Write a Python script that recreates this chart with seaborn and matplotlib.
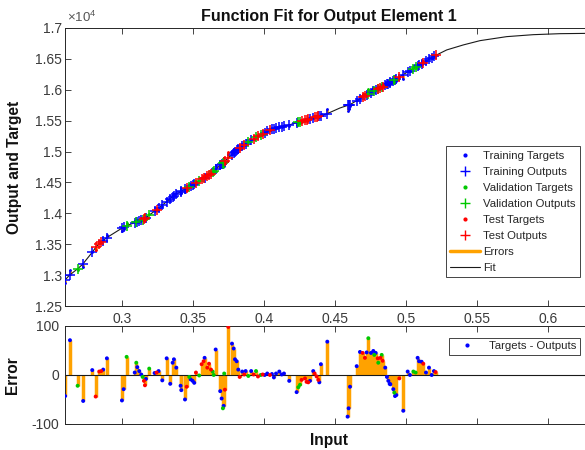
import numpy as np
import pandas as pd
import matplotlib
matplotlib.use("Agg")
import matplotlib.pyplot as plt
import seaborn as sns
from matplotlib.lines import Line2D

# ------------------ DATA ------------------
# fitted curve (input, output in raw units)
fit_x = [0.2599, 0.2629, 0.2692, 0.2723, 0.2791, 0.2822, 0.2892, 0.3021, 0.3150,
         0.3268, 0.3361, 0.3502, 0.3620, 0.3713, 0.3808, 0.3890, 0.3972, 0.4065,
         0.4183, 0.4300, 0.4442, 0.4535, 0.4606, 0.4723, 0.4840, 0.4958, 0.5075,
         0.5192, 0.5287, 0.5404, 0.5521, 0.5709, 0.5897, 0.6085, 0.6320]
fit_y = [12920, 12995, 13110, 13175, 13370, 13470, 13605, 13790, 13900,
         14100, 14280, 14470, 14630, 14820, 15020, 15150, 15270, 15370,
         15435, 15515, 15610, 15705, 15760, 15920, 16050, 16215, 16375,
         16537, 16645, 16726, 16795, 16860, 16892, 16908, 16914]

# training samples
train_x = [0.2600, 0.2634, 0.2727, 0.2791, 0.2868, 0.2894, 0.3000, 0.3012, 0.3090, 0.3108,
           0.3122, 0.3136, 0.3169, 0.3230, 0.3258, 0.3284, 0.3315, 0.3340, 0.3357, 0.3366,
           0.3383, 0.3413, 0.3418, 0.3444, 0.3484, 0.3498, 0.3509, 0.3582, 0.3660, 0.3692,
           0.3702, 0.3716, 0.3775, 0.3787, 0.3796, 0.3808, 0.3819, 0.3847, 0.3871, 0.3910,
           0.4005, 0.4023, 0.4056, 0.4070, 0.4085, 0.4108, 0.4125, 0.4141, 0.4178, 0.4230,
           0.4324, 0.4347, 0.4390, 0.4401, 0.4446, 0.4589, 0.4596, 0.4606, 0.4653, 0.4676,
           0.4723, 0.4754, 0.4770, 0.4787, 0.4854, 0.4866, 0.4876, 0.4885, 0.4890, 0.4911,
           0.4923, 0.4932, 0.4981, 0.5012, 0.5028, 0.5082, 0.5092, 0.5110, 0.5141, 0.5162,
           0.5181, 0.5197]
train_out = [12922, 13004, 13186, 13370, 13559, 13608, 13760, 13777, 13849, 13864,
             13876, 13888, 13932, 14036, 14083, 14131, 14191, 14239, 14272, 14287,
             14310, 14350, 14357, 14392, 14446, 14465, 14479, 14578, 14712, 14777,
             14798, 14826, 14951, 14976, 14995, 15020, 15037, 15082, 15120, 15179,
             15305, 15325, 15360, 15373, 15381, 15394, 15403, 15412, 15432, 15467,
             15531, 15546, 15575, 15583, 15614, 15747, 15752, 15760, 15824, 15856,
             15920, 15954, 15972, 15991, 16070, 16086, 16100, 16113, 16120, 16149,
             16166, 16179, 16246, 16289, 16311, 16385, 16399, 16423, 16466, 16495,
             16522, 16543]
train_err = [-43, 71, -53, 10, 11, 34, -52, -29, 5, 16,
             8, 1, -8, 4, 8, -11, 34, -18, 25, 32,
             15, -22, -31, -50, -9, -12, -16, 35, 52, -33,
             -48, -63, 64, 54, 32, 28, 11, 7, 8, 8,
             0, 3, 2, -5, 3, 7, 1, 3, -12, -35,
             -12, 8, -15, 22, 68, -85, -68, -24, 18, 47,
             46, 45, 49, 45, 15, -4, -12, -18, -19, -29,
             -43, -41, -73, 7, 0, 35, 28, 27, 5, 15,
             0, 8]

# validation samples
val_x = [0.2688, 0.3033, 0.3101, 0.3146, 0.3192, 0.3474, 0.3544, 0.3639, 0.3646, 0.3711,
         0.3720, 0.3890, 0.3944, 0.3977, 0.4242, 0.4254, 0.4735, 0.4777, 0.4805, 0.4829,
         0.4918, 0.5052, 0.5068]
val_out = [13103, 13800, 13858, 13897, 13971, 14432, 14527, 14669, 14683, 14816,
           14835, 15150, 15229, 15275, 15475, 15484, 15933, 15980, 16011, 16038,
           16159, 16344, 16365]
val_err = [-22, 37, 25, -4, 13, -4, -1, 7, 0, -68,
           3, -2, 8, 0, -25, -20, 75, 41, 25, 41,
           -36, 7, 5]

# test samples
test_x = [0.2815, 0.2840, 0.2854, 0.3155, 0.3162, 0.3244, 0.3456, 0.3521, 0.3561, 0.3575,
          0.3601, 0.3613, 0.3627, 0.3725, 0.3749, 0.3829, 0.3861, 0.3927, 0.3958, 0.3991,
          0.4042, 0.4265, 0.4289, 0.4300, 0.4312, 0.4357, 0.4371, 0.4383, 0.4695, 0.4711,
          0.4801, 0.4820, 0.4836, 0.4953, 0.5122, 0.5209]
test_out = [13447, 13505, 13532, 13908, 13920, 14059, 14408, 14496, 14550, 14569,
            14604, 14621, 14644, 14845, 14896, 15053, 15104, 15204, 15249, 15290,
            15345, 15491, 15508, 15515, 15523, 15553, 15562, 15571, 15882, 15904,
            16007, 16028, 16046, 16208, 16440, 16556]
test_err = [-44, 7, 8, -12, -21, 5, -24, 5, 22, 28,
            15, 23, 11, -30, 98, -4, 1, 1, -3, 1,
            0, -10, -7, -14, -15, 3, -3, -10, 45, 35,
            34, 35, 29, -7, 23, 6]

x_ticks = [0.3, 0.35, 0.4, 0.45, 0.5, 0.55, 0.6]
x_tick_labels = ["0.3", "0.35", "0.4", "0.45", "0.5", "0.55", "0.6"]
y_ticks = [12500, 13000, 13500, 14000, 14500, 15000, 15500, 16000, 16500, 17000]
y_tick_labels = ["1.25", "1.3", "1.35", "1.4", "1.45", "1.5", "1.55", "1.6", "1.65", "1.7"]
err_ticks = [-100, 0, 100]

# ------------------ STYLE ------------------
sns.set_theme(style="ticks")
plt.rcParams["font.family"] = ["Liberation Sans", "DejaVu Sans"]
plt.rcParams["axes.unicode_minus"] = False
plt.rcParams["mathtext.fontset"] = "custom"
plt.rcParams["mathtext.rm"] = "Liberation Sans"

ORANGE = "#ffa200"
AXCOL = "#262626"
TXTCOL = "#3a3a3a"
colors = {"Training": "#0000ff", "Validation": "#00c800", "Test": "#ff0000"}

pts = pd.concat([
    pd.DataFrame({"input": train_x, "output": train_out, "error": train_err, "split": "Training"}),
    pd.DataFrame({"input": val_x, "output": val_out, "error": val_err, "split": "Validation"}),
    pd.DataFrame({"input": test_x, "output": test_out, "error": test_err, "split": "Test"}),
], ignore_index=True)
pts["target"] = pts["output"] + pts["error"]

fig = plt.figure(figsize=(5.85, 4.5), dpi=100)
ax1 = fig.add_axes([0.1111, 0.32, 0.9026, 0.6178])
ax2 = fig.add_axes([0.1111, 0.0578, 0.9026, 0.2178])

# ------------------ TOP: FIT ------------------
ax1.vlines(pts["input"], pts["output"], pts["target"], color=ORANGE, lw=2, zorder=1)
sns.lineplot(x=fit_x, y=fit_y, ax=ax1, color="k", lw=0.8, estimator=None,
             sort=False, legend=False, zorder=2)
for name, c in colors.items():
    d = pts[pts["split"] == name]
    ax1.plot(d["input"], d["target"], ".", color=c, ms=2, zorder=3)
    ax1.plot(d["input"], d["output"], "+", color=c, ms=7, mew=1.1, zorder=3)

ax1.set_xlim(0.2599, 0.6317)
ax1.set_ylim(12500, 17000)
ax1.set_xticks(x_ticks)
ax1.set_xticklabels(x_tick_labels)
ax1.set_yticks(y_ticks)
ax1.set_yticklabels(y_tick_labels)
ax1.tick_params(axis="x", direction="in", top=True, length=4, width=0.6,
                colors=AXCOL, labelcolor=TXTCOL, labelsize=10, pad=4)
ax1.tick_params(axis="y", direction="in", right=True, length=4, width=0.6,
                colors=AXCOL, labelcolor=TXTCOL, labelsize=10, pad=2)
ax1.set_title("Function Fit for Output Element 1", fontsize=11.5,
              fontweight="bold", color="#111111", pad=5)
ax1.set_ylabel("Output and Target", fontsize=11.2, fontweight="bold", color="#111111")
ax1.yaxis.set_label_coords(-0.081, 0.5)
ax1.text(0.003, 1.012, r"$\times10^{4}$", transform=ax1.transAxes, ha="left",
         va="bottom", fontsize=9.5, color="#555555")

handles = [
    Line2D([], [], ls="none", marker=".", ms=4, color=colors["Training"]),
    Line2D([], [], ls="none", marker="+", ms=7, mew=1, color=colors["Training"]),
    Line2D([], [], ls="none", marker=".", ms=4, color=colors["Validation"]),
    Line2D([], [], ls="none", marker="+", ms=7, mew=1, color=colors["Validation"]),
    Line2D([], [], ls="none", marker=".", ms=4, color=colors["Test"]),
    Line2D([], [], ls="none", marker="+", ms=7, mew=1, color=colors["Test"]),
    Line2D([], [], color=ORANGE, lw=2.5),
    Line2D([], [], color="k", lw=0.8),
]
labels = ["Training Targets", "Training Outputs", "Validation Targets",
          "Validation Outputs", "Test Targets", "Test Outputs", "Errors", "Fit"]
leg1 = ax1.legend(handles, labels, loc="upper left", bbox_to_anchor=(445.7 / 585, 1 - 146 / 450),
                  bbox_transform=fig.transFigure, borderaxespad=0, fontsize=8.2,
                  handlelength=2.6, handletextpad=0.25, labelspacing=0.53,
                  borderpad=0.4, fancybox=False, framealpha=1, edgecolor=AXCOL)
leg1.get_frame().set_linewidth(0.6)

# ------------------ BOTTOM: ERRORS ------------------
ax2.vlines(pts["input"], 0, pts["error"], color=ORANGE, lw=2.5, zorder=1)
ax2.axhline(0, color="k", lw=0.8, zorder=2)
sns.scatterplot(data=pts, x="input", y="error", hue="split", palette=colors,
                s=8, linewidth=0, ax=ax2, legend=False, zorder=3)

ax2.set_xlim(0.2599, 0.6317)
ax2.set_ylim(-100, 100)
ax2.set_xticks(x_ticks)
ax2.set_xticklabels([])
ax2.set_yticks(err_ticks)
ax2.tick_params(axis="x", direction="in", top=True, length=4, width=0.6, colors=AXCOL)
ax2.tick_params(axis="y", direction="in", right=True, length=4, width=0.6,
                colors=AXCOL, labelcolor=TXTCOL, labelsize=10, pad=4)
ax2.set_xlabel("Input", fontsize=11.2, fontweight="bold", color="#111111")
ax2.xaxis.set_label_coords(0.5, -0.09)
ax2.set_ylabel("Error", fontsize=11.2, fontweight="bold", color="#111111")
ax2.yaxis.set_label_coords(-0.085, 0.5)

leg2 = ax2.legend([Line2D([], [], ls="none", marker=".", ms=4, color=colors["Training"])],
                  ["Targets - Outputs"], loc="upper left",
                  bbox_to_anchor=(449 / 585, 1 - 338 / 450), bbox_transform=fig.transFigure,
                  borderaxespad=0, fontsize=8.2, handlelength=2.6, handletextpad=0.6,
                  borderpad=0.3, fancybox=False, framealpha=1, edgecolor=AXCOL)
leg2.get_frame().set_linewidth(0.6)

for ax in (ax1, ax2):
    for sp in ax.spines.values():
        sp.set_color(AXCOL)
        sp.set_linewidth(0.7)

fig.savefig("out.png", dpi=100)
